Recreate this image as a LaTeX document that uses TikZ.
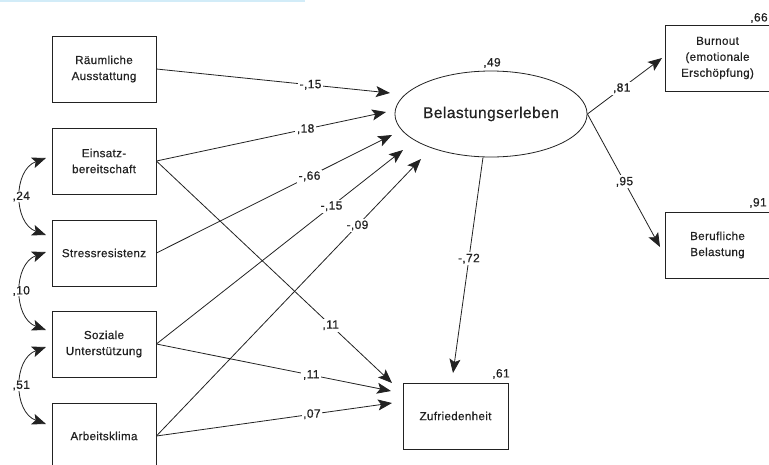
\documentclass[tikz,border=0pt]{standalone}
\usepackage{fontspec}
\setmainfont{Liberation Sans}[FakeBold=0.6,LetterSpace=3]
\usetikzlibrary{arrows.meta,shapes.geometric}
\definecolor{inkc}{HTML}{222222}
\definecolor{barc}{HTML}{D2ECF8}
\begin{document}
\begin{tikzpicture}[x=1pt,y=-1pt,
  box/.style={draw=inkc, line width=0.8pt, minimum width=104pt, minimum height=66pt,
    align=center, inner sep=0pt, font=\fontsize{11.6}{16}\selectfont, text=inkc},
  rbox/.style={box, minimum width=105pt},
  latent/.style={draw=inkc, line width=0.8pt, ellipse, minimum width=176pt, minimum height=86pt,
    inner sep=0pt, font=\fontsize{15.5}{18}\selectfont, text=inkc},
  pathline/.style={draw=inkc, line width=0.8pt, -{Stealth[length=14pt,width=11pt,inset=3pt]}},
  covline/.style={draw=inkc, line width=0.8pt, {Stealth[length=14pt,width=11pt,inset=3pt]}-{Stealth[length=14pt,width=11pt,inset=3pt]}},
  coef/.style={fill=white, inner sep=1.5pt, font=\fontsize{12}{13}\selectfont, text=inkc},
  rsq/.style={inner sep=0pt, font=\fontsize{12}{13}\selectfont, text=inkc}
]
\useasboundingbox (0,0) rectangle (769,464);
\fill[barc] (0,0) rectangle (305,1.6);

% left boxes
\node[box] (rau) at (104,69) {Räumliche\\Ausstattung};
\node[box] (ein) at (104,161) {Einsatz-\\bereitschaft};
\node[box] (str) at (104,253) {Stressresistenz};
\node[box] (soz) at (104,344) {Soziale\\Unterstützung};
\node[box] (arb) at (104,436) {Arbeitsklima};

% latent and outcomes
\node[latent] (bel) at (491,114) {Belastungserleben};
\node[rbox] (burn) at (717.5,58) {Burnout\\(emotionale\\Erschöpfung)};
\node[rbox] (ber) at (717.5,245) {Berufliche\\Belastung};
\node[rbox] (zuf) at (455.5,416) {Zufriedenheit};

% R squared
\node[rsq] (r49) at (492,63) {,49};
\node[rsq] (r66) at (759,18) {,66};
\node[rsq] (r91) at (758,203) {,91};
\node[rsq] (r61) at (501,374) {,61};

% arrow tips
\coordinate (t1) at (390,93);
\coordinate (t2) at (386,112);
\coordinate (t3) at (392,135);
\coordinate (t4) at (403,150);
\coordinate (t5) at (421,159);
\coordinate (z1) at (392,383);
\coordinate (z2) at (391,391);
\coordinate (z3) at (392,403);
\coordinate (z4) at (453,373);
\coordinate (b1) at (662,58);
\coordinate (b2) at (660,247);
\coordinate (bs) at ([xshift=-8pt]bel.south);

% paths to Belastungserleben
\draw[pathline] (rau.east) -- node[coef,pos=0.66] {-,15} (t1);
\draw[pathline] (ein.east) -- node[coef,pos=0.65] {,18} (t2);
\draw[pathline] (str.east) -- node[coef,pos=0.65] {-,66} (t3);
\draw[pathline] (soz.east) -- node[coef,pos=0.71] {-,15} (t4);
\draw[pathline] (arb.east) -- node[coef,pos=0.76] {-,09} (t5);

% paths to Zufriedenheit
\draw[pathline] (ein.east) -- node[coef,pos=0.74] {,11} (z1);
\draw[pathline] (soz.east) -- node[coef,pos=0.66] {,11} (z2);
\draw[pathline] (arb.east) -- node[coef,pos=0.66] {,07} (z3);
\draw[pathline] (bs) -- node[coef,pos=0.47] {-,72} (z4);

% paths from Belastungserleben
\draw[pathline] (bel.east) -- node[coef,pos=0.46] {,81} (b1);
\draw[pathline] (bel.east) -- node[coef,pos=0.51] {,95} (b2);

% covariances
\coordinate (c1) at (46,158);
\coordinate (c2) at (46,235);
\coordinate (c3) at (46,252);
\coordinate (c4) at (46,330);
\coordinate (c5) at (46,347);
\coordinate (c6) at (46,424);
\draw[covline] (c1) .. controls (13,170) and (13,223) .. node[coef,pos=0.5,inner sep=0.5pt] {,24} (c2);
\draw[covline] (c3) .. controls (13,264) and (13,318) .. node[coef,pos=0.5,inner sep=0.5pt] {,10} (c4);
\draw[covline] (c5) .. controls (13,359) and (13,412) .. node[coef,pos=0.5,inner sep=0.5pt] {,51} (c6);
\end{tikzpicture}
\end{document}
